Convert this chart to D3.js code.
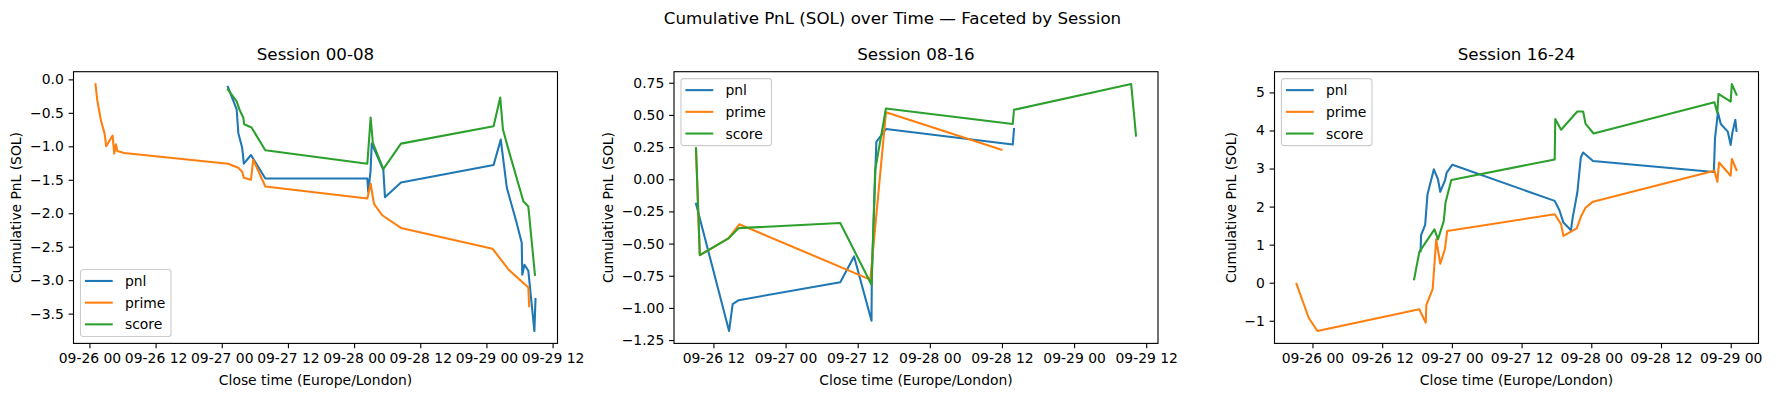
<!DOCTYPE html>
<html><head><meta charset="utf-8">
<script src="https://cdn.jsdelivr.net/npm/d3@7/dist/d3.min.js"></script>
<style>
body{margin:0;background:#fff;}
svg{display:block;font-family:"DejaVu Sans",sans-serif;}
</style></head>
<body><svg id="chart" width="1785" height="396"></svg>
<script>
// ---------- data ----------
const sessions = ["Session 00-08", "Session 08-16", "Session 16-24"];
const seriesNames = ["pnl", "prime", "score"];
const seriesColors = ["#1f77b4", "#ff7f0e", "#2ca02c"];

const s0008_pnl = [["2025-09-27 01:06",-0.11],["2025-09-27 02:06",-0.32],["2025-09-27 02:42",-0.45],["2025-09-27 03:00",-0.80],["2025-09-27 03:42",-1.02],["2025-09-27 04:00",-1.26],["2025-09-27 05:18",-1.13],["2025-09-27 07:54",-1.48],["2025-09-28 02:24",-1.48],["2025-09-28 02:34",-1.68],["2025-09-28 02:59",-1.37],["2025-09-28 03:12",-0.96],["2025-09-28 05:18",-1.35],["2025-09-28 05:36",-1.76],["2025-09-28 08:30",-1.54],["2025-09-29 01:18",-1.28],["2025-09-29 02:36",-0.90],["2025-09-29 03:42",-1.62],["2025-09-29 05:24",-2.12],["2025-09-29 06:24",-2.44],["2025-09-29 06:30",-2.92],["2025-09-29 06:54",-2.77],["2025-09-29 07:36",-2.86],["2025-09-29 08:42",-3.76],["2025-09-29 08:54",-3.28]];
const s0008_prime = [["2025-09-26 01:06",-0.07],["2025-09-26 01:24",-0.30],["2025-09-26 02:06",-0.62],["2025-09-26 02:45",-0.81],["2025-09-26 03:03",-1.00],["2025-09-26 04:12",-0.84],["2025-09-26 04:30",-1.11],["2025-09-26 04:48",-0.97],["2025-09-26 05:03",-1.07],["2025-09-26 06:18",-1.10],["2025-09-27 01:09",-1.26],["2025-09-27 03:00",-1.32],["2025-09-27 03:42",-1.38],["2025-09-27 04:00",-1.47],["2025-09-27 05:18",-1.50],["2025-09-27 05:42",-1.20],["2025-09-27 07:54",-1.60],["2025-09-28 02:24",-1.78],["2025-09-28 03:00",-1.56],["2025-09-28 03:36",-1.86],["2025-09-28 05:06",-2.03],["2025-09-28 08:30",-2.22],["2025-09-29 01:06",-2.53],["2025-09-29 04:00",-2.84],["2025-09-29 07:36",-3.11],["2025-09-29 07:45",-3.39]];
const s0008_score = [["2025-09-27 01:06",-0.15],["2025-09-27 02:42",-0.33],["2025-09-27 03:18",-0.47],["2025-09-27 03:54",-0.57],["2025-09-27 04:04",-0.67],["2025-09-27 05:24",-0.72],["2025-09-27 07:54",-1.06],["2025-09-28 02:24",-1.26],["2025-09-28 03:00",-0.57],["2025-09-28 03:24",-0.95],["2025-09-28 05:18",-1.34],["2025-09-28 08:30",-0.96],["2025-09-29 01:18",-0.70],["2025-09-29 02:30",-0.27],["2025-09-29 03:00",-0.75],["2025-09-29 04:00",-1.05],["2025-09-29 06:42",-1.82],["2025-09-29 07:36",-1.90],["2025-09-29 08:48",-2.92]];

const s0816_pnl = [["2025-09-26 09:06",-0.19],["2025-09-26 14:36",-1.18],["2025-09-26 15:12",-0.97],["2025-09-26 16:12",-0.94],["2025-09-27 09:06",-0.80],["2025-09-27 11:24",-0.60],["2025-09-27 14:18",-1.10],["2025-09-27 14:21",-0.76],["2025-09-27 15:06",0.29],["2025-09-27 16:42",0.39],["2025-09-28 13:48",0.27],["2025-09-28 14:00",0.39]];
const s0816_prime = [["2025-09-26 09:06",0.24],["2025-09-26 09:44",-0.59],["2025-09-26 14:30",-0.46],["2025-09-26 16:18",-0.35],["2025-09-27 14:06",-0.78],["2025-09-27 16:42",0.52],["2025-09-28 11:54",0.23]];
const s0816_score = [["2025-09-26 09:06",0.24],["2025-09-26 09:44",-0.59],["2025-09-26 14:30",-0.46],["2025-09-26 16:12",-0.38],["2025-09-27 09:06",-0.34],["2025-09-27 14:18",-0.82],["2025-09-27 14:54",0.07],["2025-09-27 16:42",0.55],["2025-09-28 13:48",0.43],["2025-09-28 14:00",0.54],["2025-09-29 09:30",0.74],["2025-09-29 10:18",0.34]];

const s1624_pnl = [["2025-09-26 18:36",0.82],["2025-09-26 18:42",1.25],["2025-09-26 19:24",1.52],["2025-09-26 19:48",2.32],["2025-09-26 20:06",2.50],["2025-09-26 20:54",2.98],["2025-09-26 21:36",2.72],["2025-09-26 22:00",2.39],["2025-09-26 22:48",2.68],["2025-09-26 23:06",2.89],["2025-09-27 00:06",3.10],["2025-09-27 17:42",2.15],["2025-09-27 18:30",1.91],["2025-09-27 19:12",1.58],["2025-09-27 20:30",1.38],["2025-09-27 20:48",1.71],["2025-09-27 21:36",2.37],["2025-09-27 22:12",3.29],["2025-09-27 22:36",3.42],["2025-09-28 00:18",3.20],["2025-09-28 21:06",2.91],["2025-09-28 21:18",3.80],["2025-09-28 21:48",4.47],["2025-09-28 22:18",4.17],["2025-09-28 23:30",3.97],["2025-09-29 00:00",3.62],["2025-09-29 00:18",3.95],["2025-09-29 00:48",4.28],["2025-09-29 01:00",3.99]];
const s1624_prime = [["2025-09-25 21:15",-0.03],["2025-09-25 23:21",-0.92],["2025-09-26 00:51",-1.27],["2025-09-26 18:24",-0.70],["2025-09-26 19:30",-1.05],["2025-09-26 19:36",-0.59],["2025-09-26 20:42",-0.16],["2025-09-26 21:18",1.14],["2025-09-26 22:00",0.50],["2025-09-26 22:48",0.88],["2025-09-26 23:12",1.36],["2025-09-27 17:42",1.80],["2025-09-27 18:48",1.54],["2025-09-27 19:12",1.23],["2025-09-27 21:30",1.43],["2025-09-27 22:12",1.73],["2025-09-27 23:00",1.97],["2025-09-28 00:18",2.13],["2025-09-28 21:12",2.94],["2025-09-28 21:42",2.65],["2025-09-28 22:00",3.16],["2025-09-29 00:00",2.81],["2025-09-29 00:12",3.25],["2025-09-29 01:00",2.96]];
const s1624_score = [["2025-09-26 17:30",0.09],["2025-09-26 18:24",0.81],["2025-09-26 21:00",1.40],["2025-09-26 21:36",1.14],["2025-09-26 22:36",1.62],["2025-09-26 22:54",2.10],["2025-09-26 23:54",2.70],["2025-09-27 17:42",3.24],["2025-09-27 17:48",4.30],["2025-09-27 18:48",4.02],["2025-09-27 21:36",4.50],["2025-09-27 22:36",4.50],["2025-09-27 23:00",4.18],["2025-09-28 00:24",3.92],["2025-09-28 21:12",4.74],["2025-09-28 21:42",4.46],["2025-09-28 21:54",4.96],["2025-09-29 00:00",4.76],["2025-09-29 00:12",5.22],["2025-09-29 01:00",4.94]];

const yTicks0008 = [0.0, -0.5, -1.0, -1.5, -2.0, -2.5, -3.0, -3.5];
const yTicks0816 = [0.75, 0.50, 0.25, 0.00, -0.25, -0.50, -0.75, -1.00, -1.25];
const yTicks1624 = [5, 4, 3, 2, 1, 0, -1];
const yFormats = [".1f", ".2f", "d"];
const legendPos = ["lower left", "upper left", "upper left"];

const titleText = "Cumulative PnL (SOL) over Time — Faceted by Session";
const xLabelText = "Close time (Europe/London)";
const yLabelText = "Cumulative PnL (SOL)";

// ---------- layout ----------
const panelData = [
  [s0008_pnl, s0008_prime, s0008_score],
  [s0816_pnl, s0816_prime, s0816_score],
  [s1624_pnl, s1624_prime, s1624_score]
];
const yTickSets = [yTicks0008, yTicks0816, yTicks1624];
const axLefts = [73.5, 674, 1274.5];
const axW = 484, axTop = 71.7, axH = 271.7;
const FS = 13.9, TFS = 16.7;
const parse = d3.utcParse("%Y-%m-%d %H:%M");
const fmtX = d3.utcFormat("%m-%d %H");

const svg = d3.select("#chart");
svg.append("rect").attr("width",1785).attr("height",396).attr("fill","#fff");

svg.append("text").attr("x",892.5).attr("y",24).attr("text-anchor","middle")
  .attr("font-size",TFS).attr("fill","#000").text(titleText);

panelData.forEach((series, pi) => {
  const parsed = series.map(s => s.map(d => ({t: parse(d[0]), v: d[1]})));
  const all = parsed.flat();
  const [t0, t1] = d3.extent(all, d => d.t);
  const pt = (t1 - t0) * 0.05;
  const [v0, v1] = d3.extent(all, d => d.v);
  const pv = (v1 - v0) * 0.05;
  const x = d3.scaleUtc().domain([new Date(+t0 - pt), new Date(+t1 + pt)]).range([0, axW]);
  const y = d3.scaleLinear().domain([v0 - pv, v1 + pv]).range([axH, 0]);

  const g = svg.append("g").attr("transform", `translate(${axLefts[pi]},${axTop})`);

  const clipId = "clip" + pi;
  g.append("clipPath").attr("id", clipId).append("rect").attr("width", axW).attr("height", axH);

  const line = d3.line().x(d => x(d.t)).y(d => y(d.v));
  const lg = g.append("g").attr("clip-path", `url(#${clipId})`);
  parsed.forEach((s, si) => {
    lg.append("path").datum(s).attr("d", line).attr("fill","none")
      .attr("stroke", seriesColors[si]).attr("stroke-width", 2.08)
      .attr("stroke-linejoin","round").attr("stroke-linecap","square");
  });

  // axes
  const xTicks = d3.utcHour.every(12).range(x.domain()[0], x.domain()[1]);
  const xa = g.append("g").attr("transform", `translate(0,${axH})`)
    .call(d3.axisBottom(x).tickValues(xTicks).tickFormat(fmtX).tickSize(4.86).tickPadding(4.86));
  const ya = g.append("g")
    .call(d3.axisLeft(y).tickValues(yTickSets[pi]).tickFormat(d3.format(yFormats[pi])).tickSize(4.86).tickPadding(4.86));
  [xa, ya].forEach(a => {
    a.select(".domain").remove();
    a.selectAll("line").attr("stroke","#000").attr("stroke-width",1.11);
    a.selectAll("text").attr("font-size",FS).attr("font-family","DejaVu Sans").attr("fill","#000");
  });

  g.append("rect").attr("width",axW).attr("height",axH).attr("fill","none")
    .attr("stroke","#000").attr("stroke-width",1.11);

  // titles & labels
  g.append("text").attr("x",axW/2).attr("y",-12.2).attr("text-anchor","middle")
    .attr("font-size",TFS).attr("fill","#000").text(sessions[pi]);
  g.append("text").attr("x",axW/2).attr("y",axH+41.6).attr("text-anchor","middle")
    .attr("font-size",FS).attr("fill","#000").text(xLabelText);

  let minX = 0;
  ya.selectAll("text").each(function(){ const b = this.getBBox(); minX = Math.min(minX, b.x); });
  const ylx = minX - 5.56 - 8.1;
  g.append("text").attr("transform",`translate(${ylx},${axH/2}) rotate(-90)`)
    .attr("text-anchor","middle").attr("dominant-baseline","central")
    .attr("font-size",FS).attr("fill","#000").text(yLabelText);

  // legend
  const legG = g.append("g");
  const box = legG.append("rect").attr("fill","#fff").attr("fill-opacity",0.8)
    .attr("stroke","#cccccc").attr("stroke-width",1.11).attr("rx",2.8);
  let maxW = 0;
  seriesNames.forEach((n, i) => {
    const cy = 11.5 + i*21.7;
    legG.append("line").attr("x1",4.5).attr("x2",32.3).attr("y1",cy).attr("y2",cy)
      .attr("stroke",seriesColors[i]).attr("stroke-width",2.08);
    const t = legG.append("text").attr("x",44.5).attr("y",cy).attr("dominant-baseline","central")
      .attr("font-size",FS).attr("fill","#000").text(n);
    maxW = Math.max(maxW, t.node().getComputedTextLength());
  });
  const bw = 44.5 + maxW + 5.56, bh = 67;
  box.attr("width", bw).attr("height", bh);
  const lx = 6.94, ly = legendPos[pi] === "lower left" ? axH - 6.94 - bh : 6.94;
  legG.attr("transform", `translate(${lx},${ly})`);
});
</script></body></html>
